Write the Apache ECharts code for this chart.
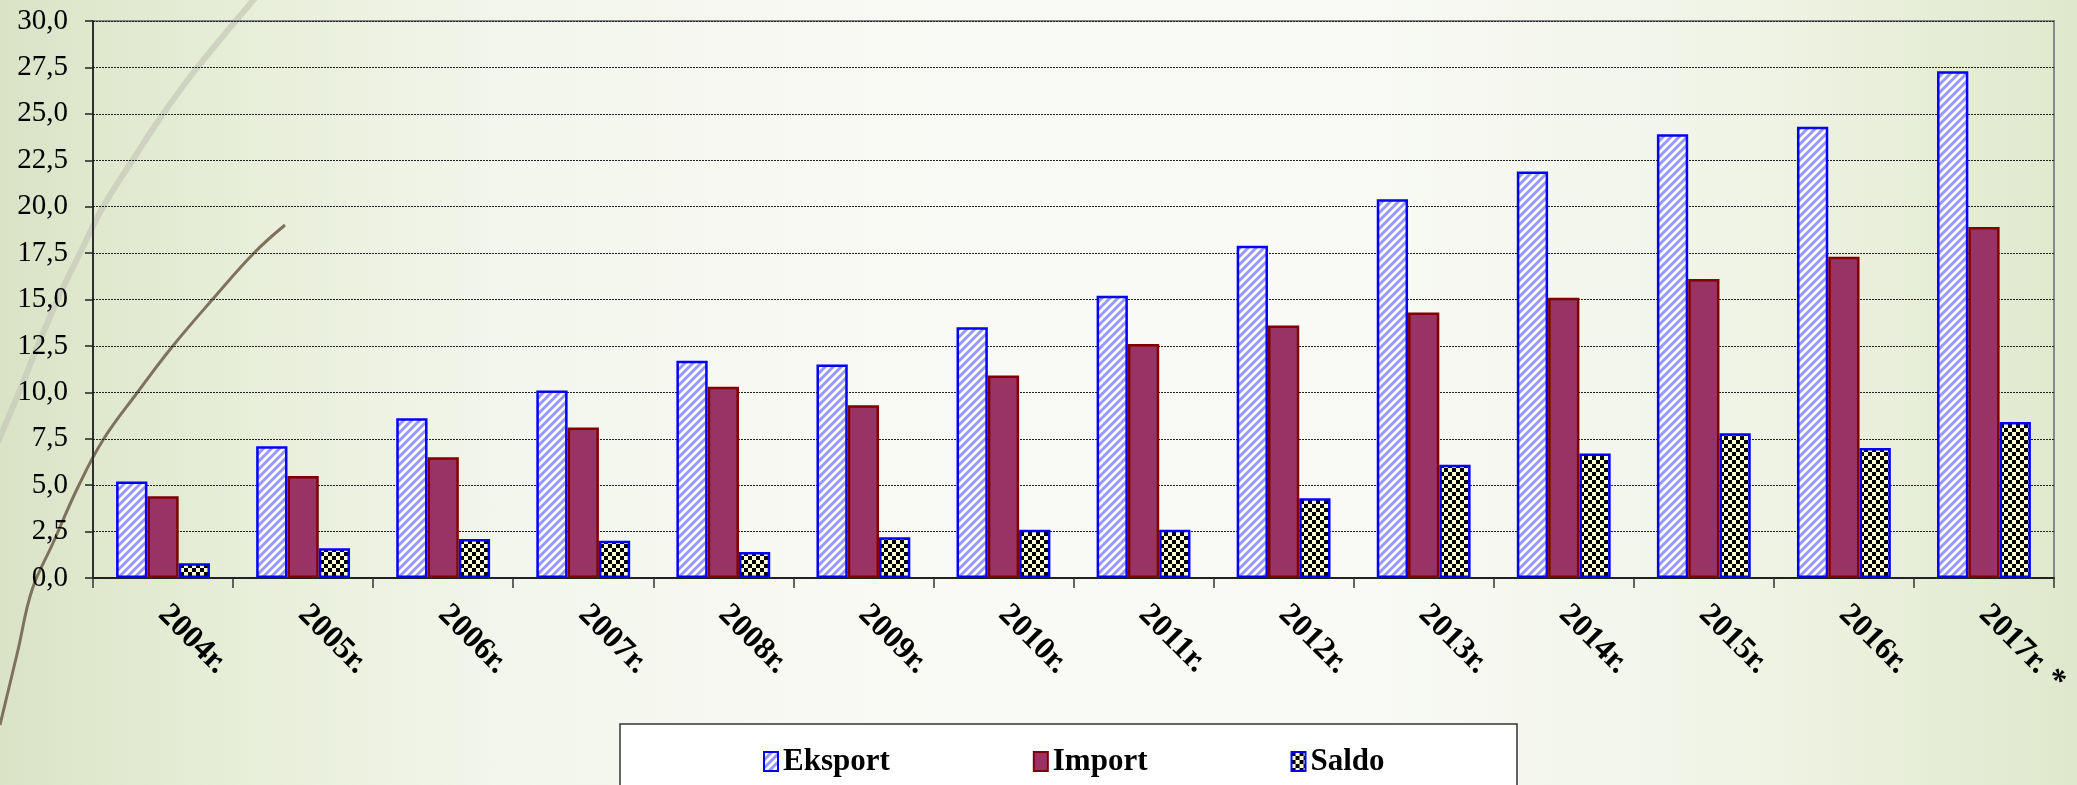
<!DOCTYPE html>
<html><head><meta charset="utf-8">
<script src="https://cdn.jsdelivr.net/npm/echarts@6/dist/echarts.min.js"></script>
<style>
html,body{margin:0;padding:0;overflow:hidden;}
#c{width:2077px;height:785px;background:linear-gradient(to right,#dae3c6 0%,#e6edd6 10%,#f3f6ec 25%,#f9faf5 45%,#f9faf6 65%,#eff3e4 85%,#dfe8cc 100%);}
</style>
</head><body><div id="c"></div>
<script>
const categories = ['2004r.','2005r.','2006r.','2007r.','2008r.','2009r.','2010r.','2011r.','2012r.','2013r.','2014r.','2015r.','2016r.','2017r. *'];
const eksport = [5.2, 7.1, 8.6, 10.1, 11.7, 11.5, 13.5, 15.2, 17.9, 20.4, 21.9, 23.9, 24.3, 27.3];
const importV = [4.4, 5.5, 6.5, 8.1, 10.3, 9.3, 10.9, 12.6, 13.6, 14.3, 15.1, 16.1, 17.3, 18.9];
const saldo = [0.8, 1.6, 2.1, 2.0, 1.4, 2.2, 2.6, 2.6, 4.3, 6.1, 6.7, 7.8, 7.0, 8.4];
const seriesNames = ['Eksport','Import','Saldo'];
const yMin = 0, yMax = 30, yStep = 2.5;

function stripePattern(){
  const c=document.createElement('canvas');c.width=8;c.height=8;
  const g=c.getContext('2d');
  g.fillStyle='#ffffff';g.fillRect(0,0,8,8);
  g.strokeStyle='#9999ff';g.lineWidth=3;g.beginPath();
  g.moveTo(-2,10);g.lineTo(10,-2);
  g.moveTo(-6,6);g.lineTo(6,-6);
  g.moveTo(2,14);g.lineTo(14,2);
  g.stroke();return c;
}
function checkerPattern(){
  const c=document.createElement('canvas');c.width=8;c.height=8;
  const g=c.getContext('2d');
  g.fillStyle='#ffffcc';g.fillRect(0,0,8,8);
  g.fillStyle='#000000';g.fillRect(0,0,4,4);g.fillRect(4,4,4,4);
  return c;
}

const chart = echarts.init(document.getElementById('c'), null, {renderer:'canvas'});
const serif = '"Liberation Serif","Times New Roman",serif';
chart.setOption({
  backgroundColor:'transparent',
  animation:false,
  graphic:[
    {type:'polyline', z:-10, silent:true,
     shape:{smooth:0.4, points:[[262,-10],[197,68],[163,114],[132,161],[103,207],[80,253],[62,290],[40,340],[20,390],[0,437],[-10,460]]},
     style:{stroke:'rgba(200,202,185,0.75)', lineWidth:6, fill:null}},
    {type:'polyline', z:-10, silent:true,
     shape:{smooth:0.4, points:[[285,225],[254,253],[212,300],[172,347],[137,393],[103,440],[78,487],[53,543],[32,590],[18,650],[6,700],[0,725]]},
     style:{stroke:'#7d725d', lineWidth:3, fill:null}},
    {type:'rect', z:-5, silent:true,
     shape:{x:620, y:724, width:897, height:80},
     style:{fill:'#ffffff', stroke:'#333333', lineWidth:1.5}}
  ],
  grid:{left:93, right:23, top:21, bottom:207, show:true, borderColor:'#888888', borderWidth:2, backgroundColor:'transparent'},
  legend:{
    data:seriesNames, left:758, top:741, orient:'horizontal', icon:'rect',
    itemWidth:14, itemHeight:19, itemGap:143,
    textStyle:{fontFamily:serif, fontWeight:'bold', fontSize:31, color:'#000'}
  },
  xAxis:{
    type:'category', data:categories,
    axisLine:{lineStyle:{color:'#222', width:2}},
    axisTick:{show:true, length:10, lineStyle:{color:'#333', width:1.5}},
    axisLabel:{interval:0, rotate:-45, margin:32, fontFamily:serif, fontWeight:'bold', fontSize:32, color:'#000'},
    splitLine:{show:false}
  },
  yAxis:{
    type:'value', min:yMin, max:yMax, interval:yStep,
    axisLine:{show:true, lineStyle:{color:'#111', width:1.5}},
    axisTick:{show:true, length:8, lineStyle:{color:'#222', width:1.5}},
    axisLabel:{margin:25, fontFamily:serif, fontSize:29, color:'#000',
      formatter:v=>v.toFixed(1).replace('.',',')},
    splitLine:{show:true, lineStyle:{color:'#222', width:1, type:[2,1]}}
  },
  series:[
    {name:seriesNames[0], type:'bar', data:eksport, barGap:'0%', barCategoryGap:'33%',
     itemStyle:{color:{image:stripePattern(), repeat:'repeat'}, borderColor:'#0000ff', borderWidth:2.5}},
    {name:seriesNames[1], type:'bar', data:importV,
     itemStyle:{color:'#993366', borderColor:'#800000', borderWidth:2.5}},
    {name:seriesNames[2], type:'bar', data:saldo,
     itemStyle:{color:{image:checkerPattern(), repeat:'repeat'}, borderColor:'#0000ff', borderWidth:2.5}}
  ]
});
</script></body></html>
